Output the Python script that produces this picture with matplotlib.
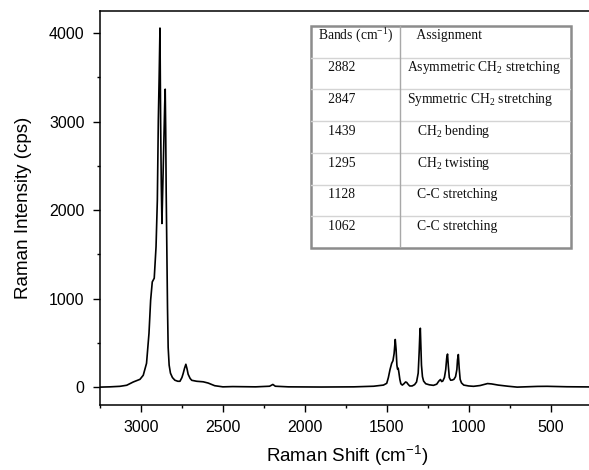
import numpy as np
import matplotlib
matplotlib.use('Agg')
import matplotlib.pyplot as plt
from matplotlib.ticker import MultipleLocator
from matplotlib.patches import Rectangle

# spectrum (cm-1, cps)
shift = [3250, 3190, 3128, 3087, 3047, 3006, 2986, 2966, 2951, 2941, 2931, 2919,
         2908, 2900, 2894, 2889, 2884, 2880, 2876, 2872, 2866, 2860, 2855, 2852,
         2849, 2846, 2842, 2838, 2834, 2828, 2820, 2808, 2793, 2775, 2762, 2750,
         2742, 2734, 2726, 2719, 2712, 2700, 2690, 2660, 2620, 2590, 2550, 2500,
         2440, 2300, 2215, 2195, 2180, 2100, 1900, 1700, 1580, 1520, 1500, 1490,
         1480, 1470, 1462, 1455, 1448, 1443, 1438, 1434, 1430, 1426, 1420, 1414,
         1405, 1395, 1385, 1378, 1370, 1360, 1345, 1330, 1318, 1308, 1302, 1298,
         1295, 1292, 1288, 1282, 1275, 1262, 1240, 1215, 1195, 1182, 1172, 1165,
         1158, 1148, 1140, 1134, 1129, 1124, 1118, 1110, 1100, 1090, 1080, 1072,
         1068, 1063, 1058, 1052, 1044, 1030, 1000, 970, 930, 900, 885, 860, 820,
         760, 704, 640, 580, 521, 460, 400, 330, 250]
intensity = [2, 5, 11, 23, 60, 90, 136, 271, 610, 983, 1190, 1232,
             1586, 2113, 3020, 3500, 4057, 3000, 2300, 1850, 2300, 2800, 3200, 3367,
             2900, 2200, 1500, 900, 450, 250, 160, 110, 80, 68, 68, 110,
             158, 215, 260, 210, 147, 100, 79, 68, 62, 48, 18, 5,
             8, 5, 12, 32, 12, 5, 3, 5, 12, 25, 45, 110,
             200, 270, 300, 380, 540, 430, 250, 205, 215, 170, 90, 40,
             25, 40, 60, 55, 35, 15, 15, 30, 60, 160, 400, 600,
             667, 500, 250, 120, 70, 40, 28, 22, 35, 70, 88, 65,
             70, 110, 200, 330, 375, 240, 110, 80, 82, 90, 120, 200,
             310, 370, 220, 90, 50, 25, 15, 11, 20, 35, 42, 38, 25,
             12, 2, 6, 10, 11, 8, 6, 5, 4]

bands = ['2882', '2847', '1439', '1295', '1128', '1062']
assignments = [r'Asymmetric CH$_\mathregular{2}$ stretching',
               r'Symmetric CH$_\mathregular{2}$ stretching',
               r'   CH$_\mathregular{2}$ bending',
               r'   CH$_\mathregular{2}$ twisting',
               '   C-C stretching',
               '   C-C stretching']

plt.rcParams['font.family'] = 'Liberation Sans'
plt.rcParams['mathtext.default'] = 'regular'

fig = plt.figure(figsize=(5.89, 4.70), dpi=100)
ax = fig.add_axes([100/589, 65/470, 494/589, 394/470])
ax.plot(shift, intensity, color='black', lw=1.2)
ax.set_xlim(3250, 235)
ax.set_ylim(-200, 4250)

ax.xaxis.set_major_locator(MultipleLocator(500))
ax.xaxis.set_minor_locator(MultipleLocator(250))
ax.yaxis.set_major_locator(MultipleLocator(1000))
ax.yaxis.set_minor_locator(MultipleLocator(500))
ax.tick_params(which='major', direction='out', length=5, width=1, pad=6, labelsize=11.5)
ax.tick_params(which='minor', direction='out', length=2.5, width=1)
for s in ax.spines.values():
    s.set_linewidth(1.1)

ax.set_xlabel(r'Raman Shift (cm$^{\mathregular{-1}}$)', fontsize=13.5, labelpad=6)
ax.set_ylabel('Raman Intensity (cps)', fontsize=13.5, labelpad=12)

# band assignment table
tax = fig.add_axes([311/589, 222/470, 260/589, 222/470])
tax.set_xlim(0, 1)
tax.set_ylim(7, 0)
tax.axis('off')
for i in range(1, 7):
    tax.axhline(i, color='#d4d4d4', lw=1)
tax.axvline(0.342, color='#a8a8a8', lw=1)
tax.add_patch(Rectangle((0, 0), 1, 7, fill=False, ec='#8c8c8c', lw=1.8, clip_on=False))

tfont = dict(family='Liberation Serif', fontsize=9.8, va='center', color='#111111')
tax.text(0.027, 0.30, r'Bands (cm$^{\mathregular{-1}}$)', **tfont)
tax.text(0.369, 0.30, '   Assignment', **tfont)
for i, (b, a) in enumerate(zip(bands, assignments)):
    tax.text(0.027, i + 1.32, '   ' + b, **tfont)
    tax.text(0.369, i + 1.32, a, **tfont)

fig.savefig('out.png', dpi=100)
